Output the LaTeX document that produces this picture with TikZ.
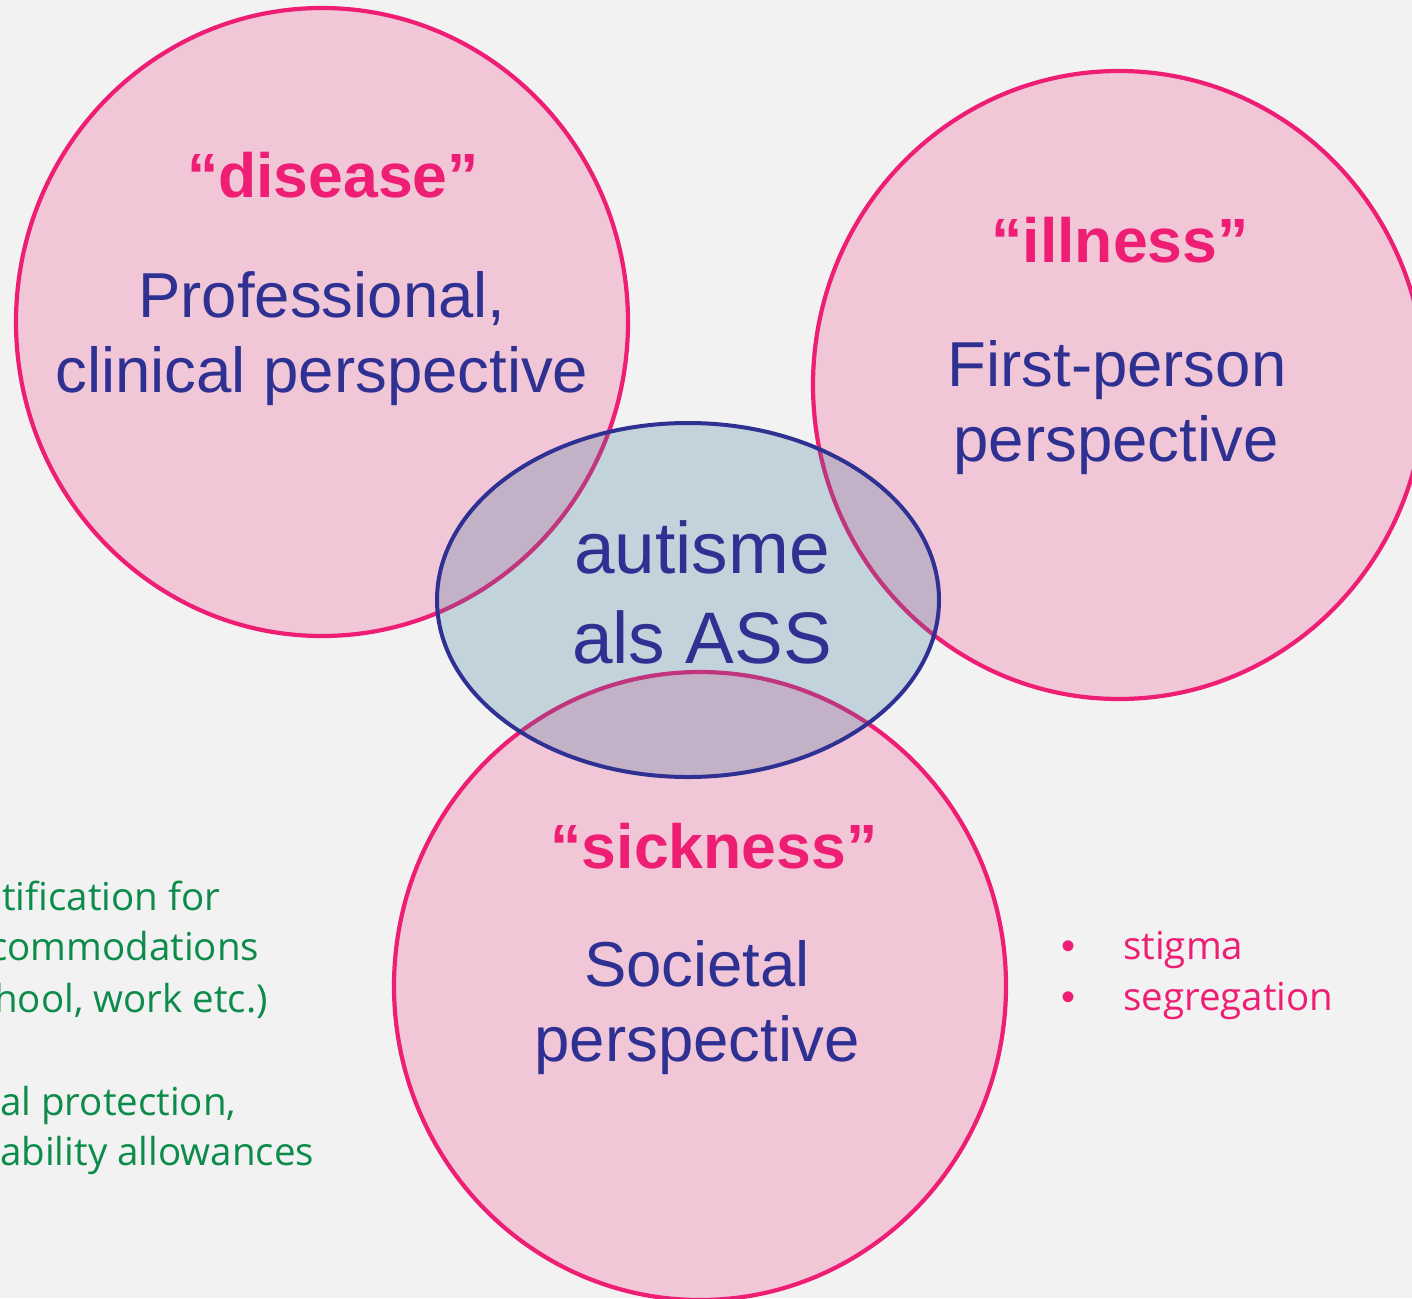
\documentclass[tikz,border=0pt]{standalone}
\usepackage{fontspec}
\setmainfont{Liberation Sans}
\newfontfamily\notefont{Open Sans}
\usetikzlibrary{shapes.geometric}
\definecolor{bgc}{HTML}{F2F2F2}
\definecolor{pinkfill}{HTML}{F1C6D7}
\definecolor{pinkline}{HTML}{ED1E74}
\definecolor{bluetxt}{HTML}{2E3192}
\definecolor{ellfill}{RGB}{58,122,154}
\definecolor{greentxt}{HTML}{0C8B4B}
\begin{document}
\begin{tikzpicture}[x=1pt,y=-1pt,
  venn/.style={ellipse, draw=pinkline, line width=4.2pt, fill=pinkfill,
    minimum width=612pt, minimum height=628pt, inner sep=0pt},
  core/.style={ellipse, draw=bluetxt, line width=4pt, fill=ellfill,
    fill opacity=0.25, draw opacity=1, text opacity=1,
    minimum width=502pt, minimum height=354pt, inner sep=0pt},
  term/.style={text=pinkline, font=\bfseries\fontsize{62.5}{70}\selectfont,
    anchor=base, inner sep=0pt},
  persp/.style={text=bluetxt, font=\fontsize{63.5}{70}\selectfont,
    anchor=base, inner sep=0pt},
  centre/.style={text=bluetxt, font=\fontsize{73}{80}\selectfont,
    anchor=base, inner sep=0pt},
  greennote/.style={text=greentxt, font=\notefont\fontsize{38.5}{44}\selectfont,
    anchor=base west, inner sep=0pt},
  pinknote/.style={text=pinkline, font=\notefont\fontsize{38.5}{44}\selectfont,
    anchor=base west, inner sep=0pt},
  dotnote/.style={text=pinkline, font=\fontsize{40}{44}\selectfont,
    anchor=base, inner sep=0pt}]
\useasboundingbox (0,0) rectangle (1412,1298);
\clip (0,0) rectangle (1412,1298);
\fill[bgc] (0,0) rectangle (1412,1298);

% circles
\node[venn] (disease) at (322,322) {};
\node[venn] (illness) at (1119,385) {};
\node[venn] (sickness) at (700,986) {};
\node[core] (autism) at (688,600) {};

% disease texts
\node[term] (tdisease) at (333,197) {“disease”};
\node[persp] (p1a) at (322,317) {Professional,};
\node[persp] (p1b) at (322,392) {clinical perspective};

% illness texts
\node[term] (tillness) at (1120,262) {“illness”};
\node[persp] (p2a) at (1117,386) {First-person};
\node[persp] (p2b) at (1116,461) {perspective};

% sickness texts
\node[term] (tsickness) at (714,868) {“sickness”};
\node[persp] (p3a) at (697,986) {Societal};
\node[persp] (p3b) at (697,1061) {perspective};

% centre
\node[centre] (c1) at (702,573) {autisme};
\node[centre] (c2) at (702,663) {als ASS};

% green notes (cut at the left edge)
\node[greennote] (g1) at (2,910) {tification for};
\node[greennote] (g2) at (-11,960) {commodations};
\node[greennote] (g3) at (-6,1012) {hool, work etc.)};
\node[greennote] (g4) at (0,1115) {al protection,};
\node[greennote] (g5) at (0,1165) {ability allowances};

% pink bullets
\node[dotnote] (b1) at (1068,959) {•};
\node[pinknote] (s1) at (1123,959) {stigma};
\node[dotnote] (b2) at (1068,1010) {•};
\node[pinknote] (s2) at (1123,1010) {segregation};
\end{tikzpicture}
\end{document}
